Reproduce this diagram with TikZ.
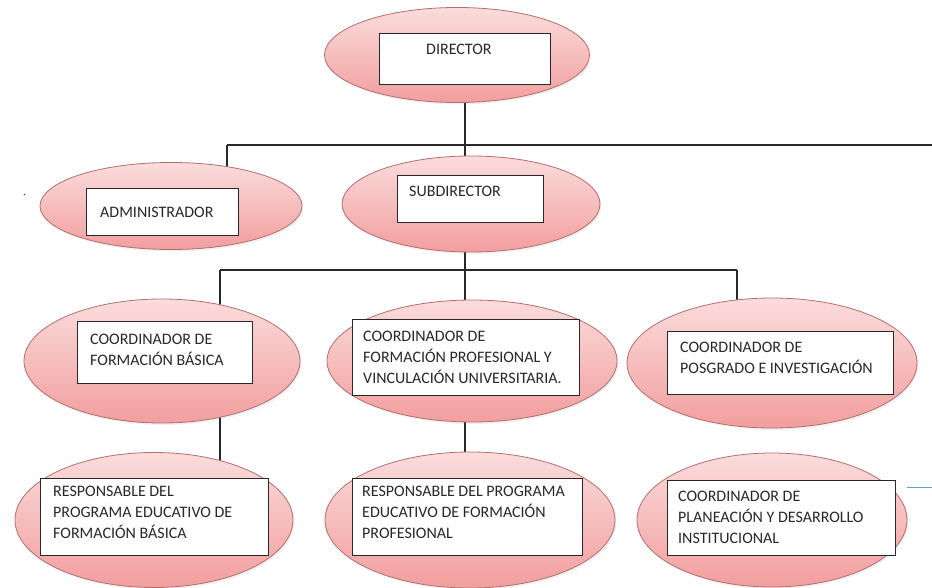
\documentclass[tikz,border=0pt]{standalone}
\usepackage{fontspec}
\setmainfont{Carlito}
\usetikzlibrary{shapes.geometric,backgrounds,shadows}
\definecolor{pinktop}{RGB}{251,220,220}
\definecolor{pinkbot}{RGB}{242,158,158}
\definecolor{pinkline}{RGB}{180,110,110}
\definecolor{txtgray}{RGB}{40,40,40}
\definecolor{connblue}{RGB}{100,160,215}
\tikzset{
  oval/.style={ellipse, draw=pinkline, line width=0.8pt, inner sep=0pt,
    top color=pinktop, bottom color=pinkbot,
    drop shadow={opacity=0.12, shadow xshift=1.5pt, shadow yshift=-2pt}},
  whitebox/.style={draw=txtgray, line width=1.3pt, fill=white, inner sep=0pt, anchor=north west},
  label/.style={anchor=north west, inner sep=0pt, align=left, text=txtgray,
    font=\fontsize{16}{21}\selectfont},
  conn/.style={draw=txtgray, line width=1.3pt},
}
\begin{document}
\begin{tikzpicture}[x=1pt,y=-1pt]
\useasboundingbox (0,0) rectangle (932,588);
% ellipses
\node[oval, minimum width=265pt, minimum height=95pt] (e_dir) at (457,55) {};
\node[oval, minimum width=262pt, minimum height=87pt] (e_adm) at (171,206) {};
\node[oval, minimum width=258pt, minimum height=96pt] (e_sub) at (471,204) {};
\node[oval, minimum width=276pt, minimum height=124pt] (e_c1) at (162,361) {};
\node[oval, minimum width=290pt, minimum height=122pt] (e_c2) at (472,361) {};
\node[oval, minimum width=290pt, minimum height=130pt] (e_c3) at (772,363) {};
\node[oval, minimum width=278pt, minimum height=135pt] (e_r1) at (154,520) {};
\node[oval, minimum width=290pt, minimum height=136pt] (e_r2) at (470,520) {};
\node[oval, minimum width=270pt, minimum height=134pt] (e_r3) at (772,520) {};
% boxes
\node[whitebox, minimum width=171pt, minimum height=51pt] (b_dir) at (379,33) {};
\node[whitebox, minimum width=152pt, minimum height=47pt] (b_adm) at (86,188) {};
\node[whitebox, minimum width=146pt, minimum height=47pt] (b_sub) at (397,175) {};
\node[whitebox, minimum width=175pt, minimum height=62pt] (b_c1) at (77,321) {};
\node[whitebox, minimum width=227pt, minimum height=76pt] (b_c2) at (352,319) {};
\node[whitebox, minimum width=226pt, minimum height=63pt] (b_c3) at (667,331) {};
\node[whitebox, minimum width=228pt, minimum height=77pt] (b_r1) at (40,478) {};
\node[whitebox, minimum width=230pt, minimum height=77pt] (b_r2) at (352,478) {};
\node[whitebox, minimum width=228pt, minimum height=75pt] (b_r3) at (667,480) {};
% texts
\node[label] (t_dir) at (426,44) {DIRECTOR};
\node[label] (t_adm) at (100,207) {ADMINISTRADOR};
\node[label] (t_sub) at (409,186) {SUBDIRECTOR};
\node[label] (t_c1) at (90,334) {COORDINADOR DE\\FORMACIÓN BÁSICA};
\node[label] (t_c2) at (363,331) {COORDINADOR DE\\FORMACIÓN PROFESIONAL Y\\VINCULACIÓN UNIVERSITARIA.};
\node[label] (t_c3) at (680,342) {COORDINADOR DE\\POSGRADO E INVESTIGACIÓN};
\node[label] (t_r1) at (53,486) {RESPONSABLE DEL\\PROGRAMA EDUCATIVO DE\\FORMACIÓN BÁSICA};
\node[label] (t_r2) at (362,486) {RESPONSABLE DEL PROGRAMA\\EDUCATIVO DE FORMACIÓN\\PROFESIONAL};
\node[label] (t_r3) at (678,491) {COORDINADOR DE\\PLANEACIÓN Y DESARROLLO\\INSTITUCIONAL};
\node[text=txtgray, inner sep=0pt, font=\fontsize{12}{12}\selectfont] (tick) at (25,198) {´};
% connectors
\coordinate (busA) at (227,145);
\coordinate (busAc) at (465,145);
\coordinate (busR) at (932,145);
\coordinate (busB) at (220,270);
\coordinate (busBc) at (465,270);
\coordinate (busBR) at (737,270);
\coordinate (blueA) at (907,487);
\coordinate (blueB) at (932,487);
\begin{scope}[on background layer]
\draw[conn] (busA) -- (busR);
\draw[conn] (busA) -- (busA |- e_adm.center);
\draw[conn] (busAc |- e_dir.center) -- (busAc |- e_r2.center);
\draw[conn] (busB) -- (busBR);
\draw[conn] (busB) -- (busB |- e_r1.center);
\draw[conn] (busBR) -- (busBR |- e_c3.center);
\end{scope}
\draw[connblue, line width=1pt] (blueA) -- (blueB);
\end{tikzpicture}
\end{document}
